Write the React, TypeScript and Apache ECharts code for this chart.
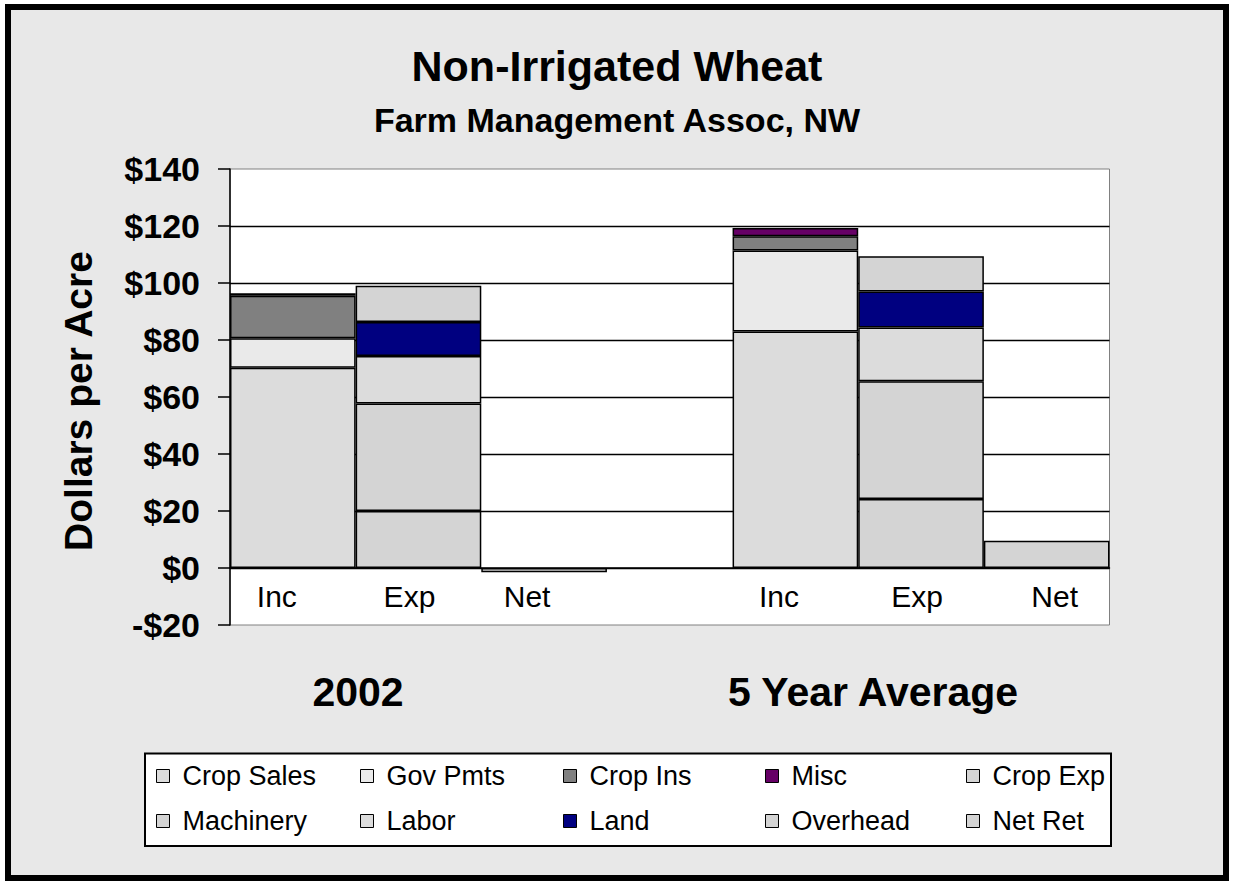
import React, { useEffect, useRef } from "react";
import * as echarts from "echarts";

const categories = ["Inc", "Exp", "Net", "", "Inc", "Exp", "Net"];
const cropSales = [70.3, null, null, null, 83.0, null, null];
const govPmts = [10.3, null, null, null, 28.4, null, null];
const cropIns = [14.9, null, null, null, 5.0, null, null];
const misc = [0.9, null, null, null, 2.9, null, null];
const cropExp = [null, 20.0, null, null, null, 24.2, null];
const machinery = [null, 37.7, null, null, null, 41.3, null];
const labor = [null, 16.7, null, null, null, 18.9, null];
const land = [null, 11.9, null, null, null, 12.6, null];
const overhead = [null, 12.7, null, null, null, 12.4, null];
const netRet = [null, null, -1.5, null, null, null, 9.6];

const seriesNames = ["Crop Sales", "Gov Pmts", "Crop Ins", "Misc", "Crop Exp", "Machinery", "Labor", "Land", "Overhead", "Net Ret"];
const seriesValues = [cropSales, govPmts, cropIns, misc, cropExp, machinery, labor, land, overhead, netRet];
const seriesColors = ["#dcdcdc", "#eaeaea", "#808080", "#660066", "#d4d4d4", "#d4d4d4", "#dcdcdc", "#000080", "#d4d4d4", "#d4d4d4"];

const yTicks = { min: -20, max: 140, interval: 20 };
const groupLabels = ["2002", "5 Year Average"];
const titleText = "Non-Irrigated Wheat";
const subtitleText = "Farm Management Assoc, NW";
const yAxisTitle = "Dollars per Acre";

// label horizontal shifts (style only): [top, right, bottom, left]
const labelPad = [
  [0, 32, 0, 0],
  [0, 18, 0, 0],
  [0, 34, 0, 0],
  [0, 0, 0, 0],
  [0, 33, 0, 0],
  [0, 8, 0, 0],
  [0, 0, 0, 16],
];

const FONT = '"Liberation Sans", Arial, sans-serif';

export default function App() {
  const ref = useRef<HTMLDivElement>(null);
  useEffect(() => {
    if (!ref.current) return;
    const chart = echarts.init(ref.current, null, { renderer: "svg" });
    const colX = [156, 360, 563, 765, 966];
    const rowY = [761, 806];
    const legends = seriesNames.map((name, i) => ({
      data: [name],
      left: colX[i % 5],
      top: rowY[Math.floor(i / 5)],
      padding: 0,
      itemWidth: 13,
      itemHeight: 13,
      itemGap: 0,
      icon: "rect",
      selectedMode: false,
      itemStyle: { borderColor: "#000", borderWidth: 1 },
      textStyle: { fontSize: 27, fontFamily: FONT, color: "#000", padding: [0, 0, 0, 8], lineHeight: 30 },
    }));
    const option: any = {
      animation: false,
      backgroundColor: "#ffffff",
      textStyle: { fontFamily: FONT },
      graphic: [
        {
          type: "rect",
          z: -10,
          shape: { x: 8, y: 7, width: 1218, height: 871 },
          style: { fill: "#e8e8e8", stroke: "#000", lineWidth: 6 },
        },
        {
          type: "rect",
          z: -5,
          shape: { x: 145, y: 753.5, width: 966, height: 92.5 },
          style: { fill: "#ffffff", stroke: "#000", lineWidth: 2 },
        },
        {
          type: "text",
          x: 617,
          y: 66,
          style: { text: titleText, font: `bold 43px ${FONT}`, fill: "#000", align: "center", verticalAlign: "middle", textAlign: "center", textVerticalAlign: "middle" },
        },
        {
          type: "text",
          x: 617,
          y: 120,
          style: { text: subtitleText, font: `bold 34px ${FONT}`, fill: "#000", align: "center", verticalAlign: "middle", textAlign: "center", textVerticalAlign: "middle" },
        },
        {
          type: "text",
          x: 78,
          y: 401,
          rotation: Math.PI / 2,
          style: { text: yAxisTitle, font: `bold 39px ${FONT}`, fill: "#000", align: "center", verticalAlign: "middle", textAlign: "center", textVerticalAlign: "middle" },
        },
        {
          type: "text",
          x: 358,
          y: 692,
          style: { text: groupLabels[0], font: `bold 41px ${FONT}`, fill: "#000", align: "center", verticalAlign: "middle", textAlign: "center", textVerticalAlign: "middle" },
        },
        {
          type: "text",
          x: 873,
          y: 692,
          style: { text: groupLabels[1], font: `bold 41px ${FONT}`, fill: "#000", align: "center", verticalAlign: "middle", textAlign: "center", textVerticalAlign: "middle" },
        },
      ],
      legend: legends,
      grid: {
        left: 230,
        right: 123.5,
        top: 169,
        bottom: 257,
        show: true,
        backgroundColor: "#ffffff",
        borderColor: "#808080",
        borderWidth: 1,
        containLabel: false,
      },
      xAxis: {
        type: "category",
        data: categories.map((c, i) => ({ value: c, textStyle: { padding: labelPad[i] } })),
        axisLine: { show: true, onZero: true, lineStyle: { color: "#000", width: 1.5 } },
        axisTick: { show: false },
        axisLabel: { fontSize: 30, fontFamily: FONT, color: "#000", margin: -44, lineHeight: 30, interval: 0 },
        splitLine: { show: false },
      },
      yAxis: {
        type: "value",
        min: yTicks.min,
        max: yTicks.max,
        interval: yTicks.interval,
        axisLine: { show: true, lineStyle: { color: "#000", width: 1.5 } },
        axisTick: { show: true, length: 12, lineStyle: { color: "#000", width: 1.5 } },
        axisLabel: {
          fontSize: 34,
          fontWeight: "bold",
          fontFamily: FONT,
          color: "#000",
          margin: 30,
          formatter: (v: number) => (v < 0 ? "-$" + Math.abs(v) : "$" + v),
        },
        splitLine: { show: true, showMinLine: false, showMaxLine: false, lineStyle: { color: "#000", width: 1.3 } },
      },
      series: seriesNames.map((name, i) => ({
        name,
        type: "bar",
        stack: "total",
        barCategoryGap: "0%",
        data: seriesValues[i].map((v) => (v === null ? "-" : v)),
        itemStyle: { color: seriesColors[i], borderColor: "#000", borderWidth: 1.5 },
        emphasis: { disabled: true },
      })),
    };
    chart.setOption(option);
    return () => chart.dispose();
  }, []);
  return <div ref={ref} style={{ position: "fixed", left: 0, top: 0, width: 1233, height: 882 }} />;
}
